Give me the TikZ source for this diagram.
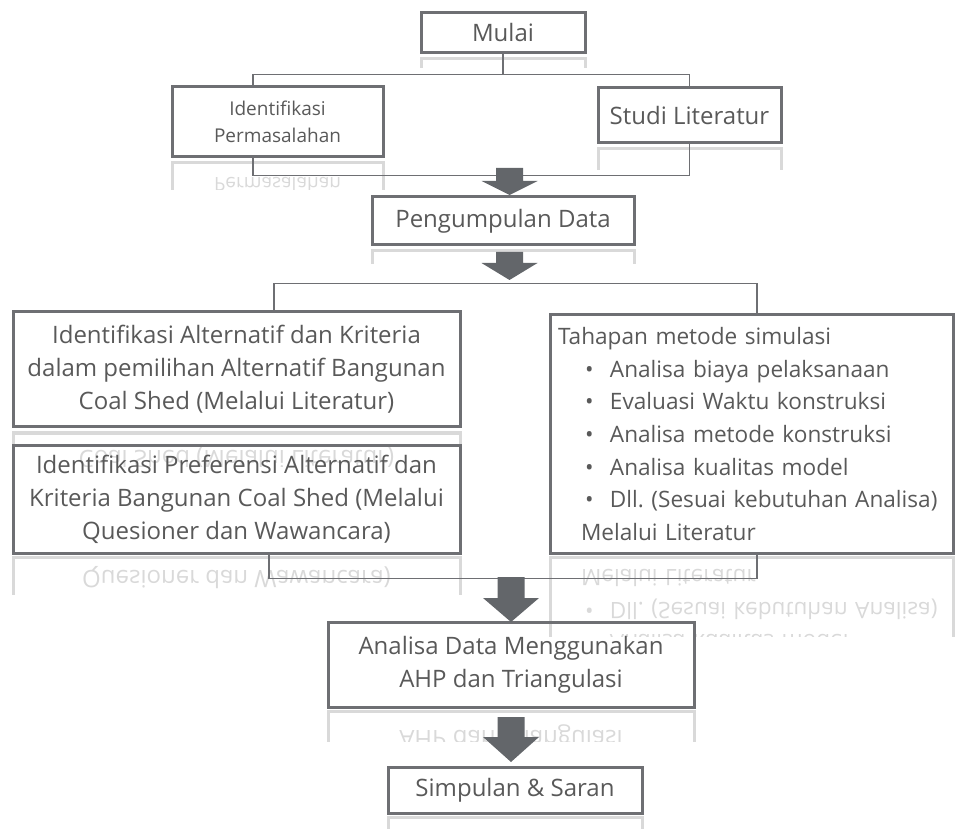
\documentclass[tikz,border=0pt]{standalone}
\usepackage{fontspec}
\setmainfont{Open Sans}
\frenchspacing

\definecolor{boxgray}{HTML}{6E6F73}
\definecolor{txtgray}{HTML}{595959}
\definecolor{arrowgray}{HTML}{63666A}
\definecolor{ghostgray}{HTML}{D9D9D9}

\tikzset{
  box/.style={draw=boxgray, line width=1.5pt, text=txtgray, inner sep=4pt,
    align=center, font=\fontsize{12}{16.5}\selectfont},
  simbox/.style={box, text width=193.5pt, minimum height=119pt, align=left,
    font=\fontsize{11.3}{16.3}\selectfont},
  ghost/.style={draw=ghostgray, text=ghostgray, yscale=-1},
  link/.style={draw=boxgray, line width=0.6pt}
}

% block arrow: x, top of shaft, base of head, tip
\newcommand{\flowarrow}[4]{%
  \fill[arrowgray] ({#1-13.5},#2) -- ({#1+13.5},#2) -- ({#1+13.5},#3) -- ({#1+28},#3)
    -- (#1,#4) -- ({#1-28},#3) -- ({#1-13.5},#3) -- cycle;}
\newcommand{\simitem}[1]{\hspace*{13.5pt}\makebox[12.5pt][l]{\textbullet}\mbox{#1}}

\newcommand{\alttext}{Identifikasi Alternatif dan Kriteria\\dalam pemilihan Alternatif Bangunan\\Coal Shed (Melalui Literatur)}
\newcommand{\preftext}{Identifikasi Preferensi Alternatif dan\\Kriteria Bangunan Coal Shed (Melalui\\Quesioner dan Wawancara)}
\newcommand{\simtext}{Tahapan metode simulasi\\
  \simitem{Analisa biaya pelaksanaan}\\
  \simitem{Evaluasi Waktu konstruksi}\\
  \simitem{Analisa metode konstruksi}\\
  \simitem{Analisa kualitas model}\\
  \simitem{Dll. (Sesuai kebutuhan Analisa)}\\
  \hspace*{11.5pt}Melalui Literatur}

\begin{document}
\begin{tikzpicture}[x=0.5pt, y=-0.5pt]
\useasboundingbox (0,0) rectangle (955,829);

% reflections under the boxes
\begin{scope}
\clip (418,56) rectangle (588,68);
\node[box, ghost, minimum width=82pt, minimum height=20pt] (mulaiR) at (503,79) {};
\end{scope}
\begin{scope}
\clip (169,160) rectangle (386,190);
\node[box, ghost, minimum width=105.5pt, minimum height=35pt, font=\fontsize{9.5}{13.5}\selectfont] (identR) at (277.5,198) {Identifikasi\\Permasalahan};
\end{scope}
\begin{scope}
\clip (595,146) rectangle (784,170);
\node[box, ghost, minimum width=91.5pt, minimum height=27.5pt] (studiR) at (689.5,176.5) {};
\end{scope}
\begin{scope}
\clip (369,248) rectangle (637,264);
\node[box, ghost, minimum width=131pt, minimum height=24pt] (kumpulR) at (503,275) {};
\end{scope}
\begin{scope}
\clip (10,430) rectangle (463,466);
\node[box, ghost, minimum width=223.5pt, minimum height=57.5pt] (altR) at (236.5,490.5) {\alttext};
\end{scope}
\begin{scope}
\clip (10,555) rectangle (463,594);
\node[box, ghost, minimum width=223.5pt, minimum height=54pt] (prefR) at (236.5,611) {\preftext};
\end{scope}
\begin{scope}
\clip (547,555) rectangle (955,636);
\node[simbox, ghost] (simR) at (751.5,676) {\simtext};
\end{scope}
\begin{scope}
\clip (325,709) rectangle (697,741);
\node[box, ghost, minimum width=183pt, minimum height=42.5pt] (ahpR) at (511,753.5) {Analisa Data Menggunakan\\AHP dan Triangulasi};
\end{scope}
\begin{scope}
\clip (385,815) rectangle (645,829);
\node[box, ghost, minimum width=127pt, minimum height=23pt] (simpulR) at (515,840) {};
\end{scope}

% boxes
\node[box, minimum width=82pt, minimum height=20pt] (mulai) at (503,33) {Mulai};
\node[box, minimum width=105.5pt, minimum height=35pt, font=\fontsize{9.5}{13.5}\selectfont] (ident) at (277.5,122) {Identifikasi\\Permasalahan};
\node[box, minimum width=91.5pt, minimum height=27.5pt] (studi) at (689.5,115.5) {Studi Literatur};
\node[box, minimum width=131pt, minimum height=24pt] (kumpul) at (503,221) {Pengumpulan Data};
\node[box, minimum width=223.5pt, minimum height=57.5pt] (alt) at (236.5,369.5) {\alttext};
\node[box, minimum width=223.5pt, minimum height=54pt] (pref) at (236.5,499) {\preftext};
\node[simbox] (sim) at (751.5,434) {\simtext};
\node[box, minimum width=183pt, minimum height=42.5pt] (ahp) at (511,664.5) {Analisa Data Menggunakan\\AHP dan Triangulasi};
\node[box, minimum width=127pt, minimum height=23pt] (simpul) at (515,790) {Simpulan \& Saran};

% connectors
\draw[link] (mulai.south) -- ++(0,20) coordinate (bus1);
\draw[link] (bus1) -| ([xshift=-12.25pt]ident.north);
\draw[link] (bus1) -| (studi.north);
\draw[link] ([xshift=-12.25pt]ident.south) -- ++(0,17) coordinate (bus2) -| (studi.south);
\draw[link] ([xshift=18.75pt]alt.north) -- ++(0,-27) coordinate (bus3) -| ([xshift=2.75pt]sim.north);
\draw[link] ([xshift=16.25pt]pref.south) -- ++(0,24) coordinate (bus4) -| ([xshift=2.75pt]sim.south);

% arrows
\flowarrow{509.5}{168}{181}{195}
\flowarrow{509.5}{252}{263}{280}
\flowarrow{511}{577}{598}{622}
\flowarrow{511}{717}{737}{762}
\end{tikzpicture}
\end{document}
